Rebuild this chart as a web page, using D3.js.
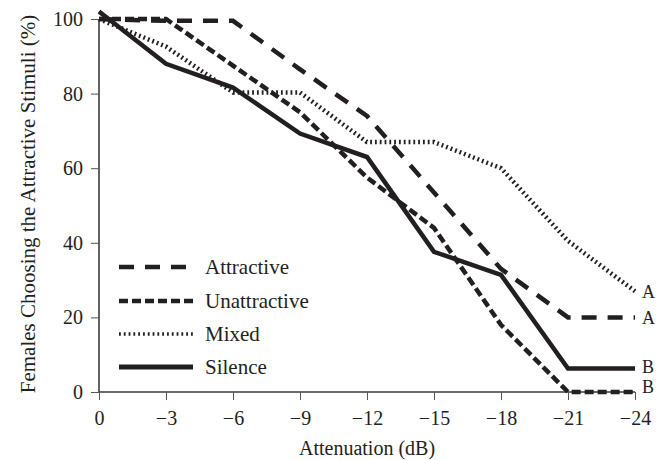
<!DOCTYPE html>
<html>
<head>
<meta charset="utf-8">
<script src="https://cdn.jsdelivr.net/npm/d3@7"></script>
<style>
  body { margin: 0; background: #fff; }
  svg text { font-family: "Liberation Serif", "Times New Roman", serif; fill: #231f20; }
</style>
</head>
<body>
<svg id="chart" width="665" height="460"></svg>
<script>
const attenuation = [0, -3, -6, -9, -12, -15, -18, -21, -24];
const attractive = [100, 99.5, 99.5, 86.5, 74, 53.5, 33, 20, 20];
const unattractive = [100, 100, 87.5, 75, 57.5, 44, 18, 0, 0];
const mixed = [100, 92.6, 80.3, 80.3, 67, 67, 60, 40.5, 27];
const silence = [102, 88, 81.6, 69.3, 63, 37.6, 31.4, 6.3, 6.3];
const yTicks = [0, 20, 40, 60, 80, 100];
const endLabels = ["A", "A", "B", "B"];

const ink = "#231f20";
const svg = d3.select("#chart");

const x = d3.scaleLinear().domain([0, -24]).range([99, 635]);
const y = d3.scaleLinear().domain([0, 100]).range([392, 19]);

// series styles, nudge = small vertical shift of the end letter
const series = [
  {name: "Attractive", values: attractive, dash: "15,11", width: 4.5, label: endLabels[1], nudge: 0},
  {name: "Unattractive", values: unattractive, dash: "9,4", width: 4.5, label: endLabels[3], nudge: -5},
  {name: "Mixed", values: mixed, dash: "1.8,3", width: 4.5, label: endLabels[0], nudge: 0},
  {name: "Silence", values: silence, dash: null, width: 4.5, label: endLabels[2], nudge: -2}
];

// axes
const xAxis = svg.append("g")
  .attr("transform", `translate(0,${y(0)})`)
  .call(d3.axisBottom(x).tickValues(attenuation).tickSize(8).tickPadding(11)
    .tickFormat(d => d === 0 ? "0" : "\u2212" + Math.abs(d)));
const yAxis = svg.append("g")
  .attr("transform", `translate(${x(0)},0)`)
  .call(d3.axisLeft(y).tickValues(yTicks).tickSize(8).tickPadding(8));

[xAxis, yAxis].forEach(a => {
  a.select(".domain").attr("stroke", "#3a3a3a").attr("stroke-width", 1.6);
  a.selectAll(".tick line").attr("stroke", "#555").attr("stroke-width", 1);
  a.selectAll(".tick text").attr("font-size", 20).attr("fill", ink)
    .style("font-family", "'Liberation Serif', serif");
});
yAxis.select(".domain").attr("d", `M0,${y(0)}V${y(100)}`);
xAxis.select(".domain").attr("d", `M${x(0)},0H${x(-24)}`);

// lines
const line = d3.line()
  .x((d, i) => x(attenuation[i]))
  .y(d => y(d))
  .curve(d3.curveLinear);

svg.append("g").selectAll("path")
  .data(series)
  .join("path")
  .attr("d", d => line(d.values))
  .attr("fill", "none")
  .attr("stroke", ink)
  .attr("stroke-width", d => d.width)
  .attr("stroke-dasharray", d => d.dash)
  .attr("stroke-linejoin", "miter");

// end letters
svg.append("g").selectAll("text")
  .data(series)
  .join("text")
  .attr("x", x(-24) + 7)
  .attr("y", d => y(d.values[d.values.length - 1]) + d.nudge)
  .attr("dy", "0.35em")
  .attr("font-size", 18)
  .text(d => d.label);

// legend
const legendY = [267, 301, 334, 367];
const legend = svg.append("g").selectAll("g")
  .data(series)
  .join("g")
  .attr("transform", (d, i) => `translate(119,${legendY[i]})`);
legend.append("line")
  .attr("x1", 0).attr("x2", 74)
  .attr("stroke", ink)
  .attr("stroke-width", d => d.name === "Silence" ? 5 : d.name === "Mixed" ? 3.5 : d.width)
  .attr("stroke-dasharray", d => d.dash);
legend.append("text")
  .attr("x", 86)
  .attr("dy", "0.33em")
  .attr("font-size", 21)
  .text(d => d.name);

// axis titles
svg.append("text")
  .attr("x", (x(0) + x(-24)) / 2)
  .attr("y", 455)
  .attr("text-anchor", "middle")
  .attr("font-size", 20)
  .text("Attenuation (dB)");

svg.append("text")
  .attr("transform", "translate(35,204) rotate(-90)")
  .attr("text-anchor", "middle")
  .attr("font-size", 21)
  .text("Females Choosing the Attractive Stimuli (%)");
</script>
</body>
</html>
